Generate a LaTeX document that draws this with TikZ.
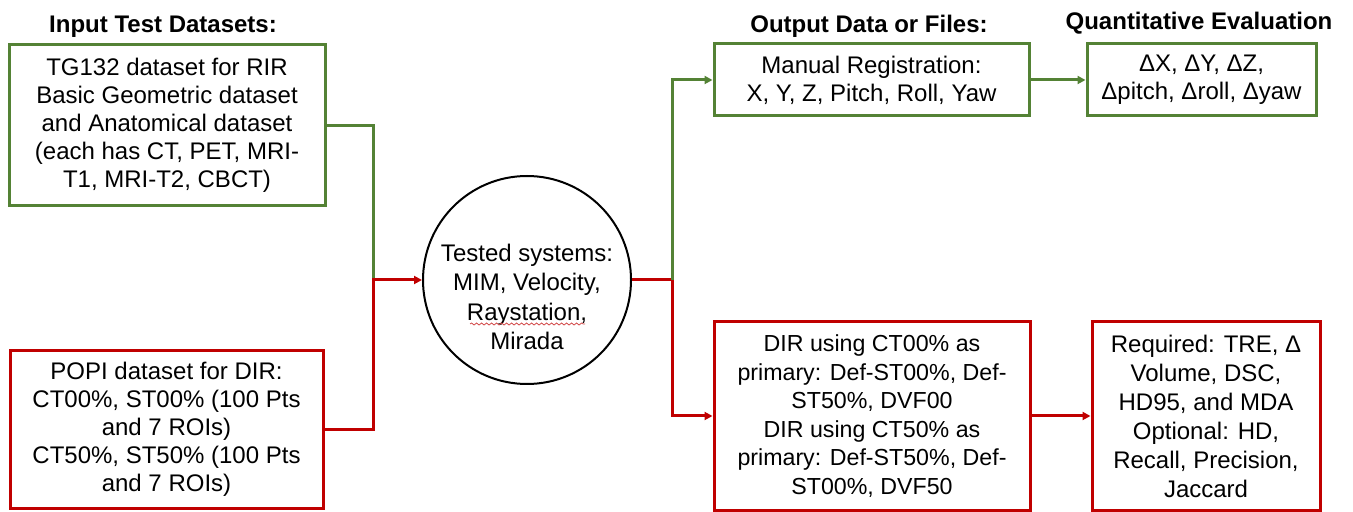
\documentclass[tikz,border=0pt]{standalone}
\usepackage{fontspec}
\setmainfont{Liberation Sans}
\usetikzlibrary{arrows.meta,decorations.pathmorphing}
\definecolor{dgreen}{RGB}{84,130,53}
\definecolor{dred}{RGB}{192,0,0}

\begin{document}
\begin{tikzpicture}[x=0.5pt,y=-0.5pt,
    box/.style={draw,line width=1.5pt,align=center,inner sep=0pt,font=\fontsize{12}{14}\selectfont},
    gbox/.style={box,draw=dgreen},
    rbox/.style={box,draw=dred},
    title/.style={font=\fontsize{12}{14}\selectfont\bfseries,anchor=base},
    link/.style={line width=1.5pt},
    stream/.style={link,-{Triangle[length=4pt,width=4pt]}}]
    \useasboundingbox (0,0) rectangle (1353,512);

    %INPUT
    \node[title] (intitle) at (163,33) {Input Test Datasets:};
    \node[gbox,minimum width=158pt,minimum height=80.5pt] (tg) at (167,125.5)
      {TG132 dataset for RIR\\Basic Geometric dataset\\and Anatomical dataset\\(each has CT, PET, MRI-\\T1, MRI-T2, CBCT)};
    \node[rbox,minimum width=156.5pt,minimum height=78.5pt] (popi) at (166.5,429.5)
      {POPI dataset for DIR:\\CT00\%, ST00\% (100 Pts\\and 7 ROIs)\\CT50\%, ST50\% (100 Pts\\and 7 ROIs)};

    %SYSTEMS
    \node[draw,circle,line width=1pt,minimum size=104pt,inner sep=0pt] (sys) at (527,280) {};
    \node[align=center,font=\fontsize{12}{14.8}\selectfont] (systxt) at (527,297)
      {Tested systems:\\MIM, Velocity,\\Raystation,\\Mirada};
    \draw[dred!70,line width=0.4pt,decorate,decoration={snake,amplitude=0.5pt,segment length=2.5pt}]
      (470,324) -- (585,324);

    %OUTPUT
    \node[title] (outtitle) at (869,33) {Output Data or Files:};
    \node[gbox,minimum width=157.5pt,minimum height=36pt] (manual) at (871.5,80)
      {Manual Registration:\\X, Y, Z, Pitch, Roll, Yaw};
    \node[rbox,minimum width=158pt,minimum height=94pt,font=\fontsize{11.6}{14.3}\selectfont] (dir) at (872,416)
      {DIR using CT00\% as\\primary: Def-ST00\%, Def-\\ST50\%, DVF00\\DIR using CT50\% as\\primary: Def-ST50\%, Def-\\ST00\%, DVF50};

    %EVALUATION
    \node[title] (evaltitle) at (1199,30) {Quantitative Evaluation};
    \node[gbox,minimum width=114.5pt,minimum height=36pt] (quant) at (1201.5,80)
      {ΔX, ΔY, ΔZ,\\Δpitch, Δroll, Δyaw};
    \node[rbox,minimum width=114pt,minimum height=94pt,font=\fontsize{12}{14.5}\selectfont] (req) at (1206,416)
      {Required: TRE, Δ\\Volume, DSC,\\HD95, and MDA\\Optional: HD,\\Recall, Precision,\\Jaccard};

    % connectors
    \coordinate (jin) at (373,280);
    \coordinate (jout) at (672,280);
    \draw[link,dgreen] (tg.east) -| (jin);
    \draw[stream,dred] (popi.east) -| (jin) -- (sys.west);
    \draw[link,dred] (sys.east) -- (jout);
    \draw[stream,dgreen] (jout) |- (manual.west);
    \draw[stream,dred] (jout) |- (dir.west);
    \draw[stream,dgreen] (manual.east) -- (quant.west);
    \draw[stream,dred] (dir.east) -- (req.west);
\end{tikzpicture}
\end{document}
